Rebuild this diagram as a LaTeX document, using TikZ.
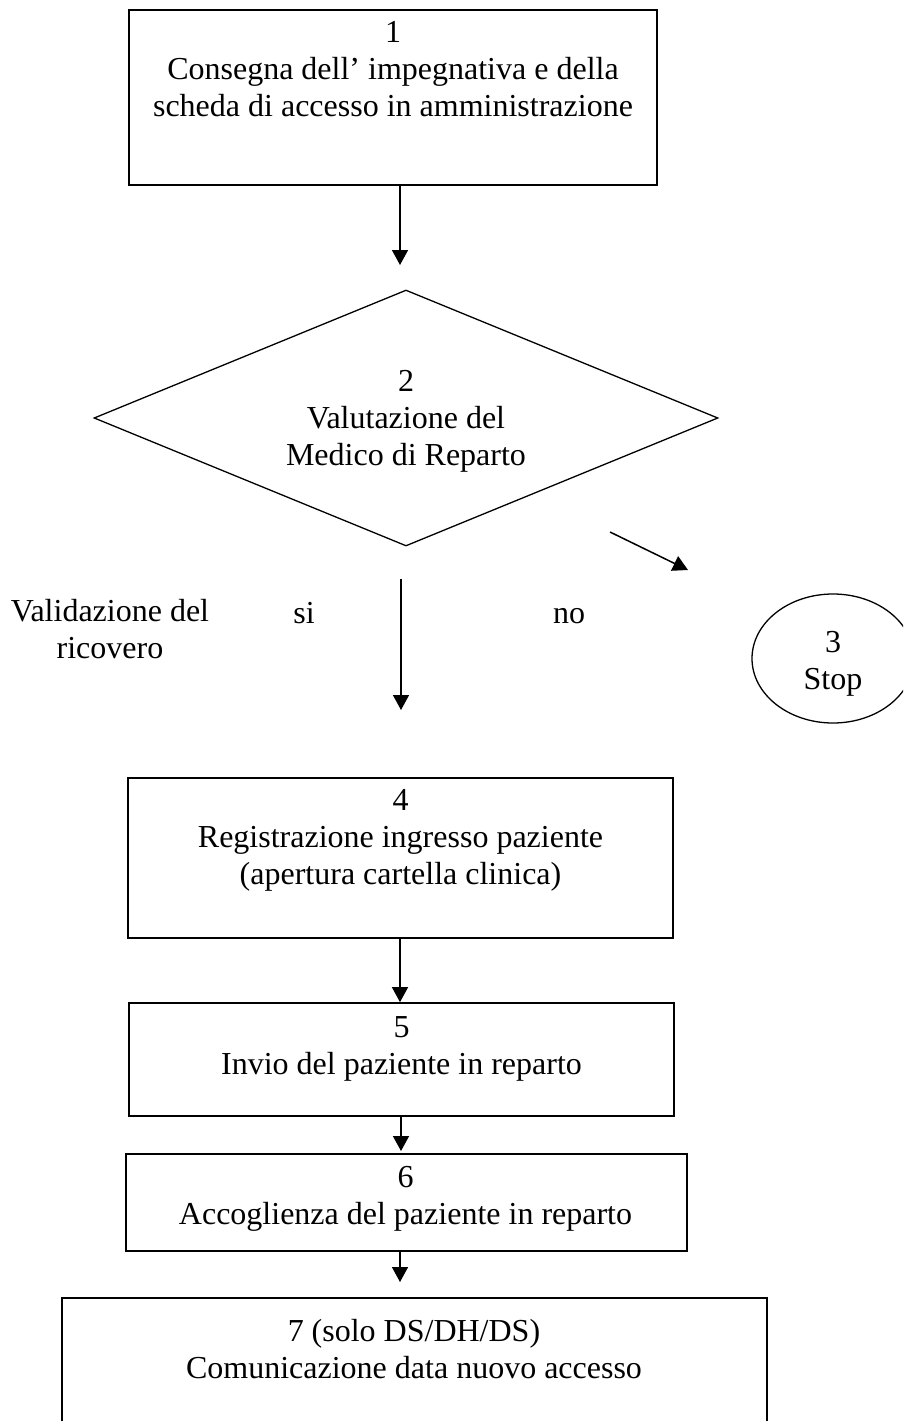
\documentclass[tikz,border=0pt]{standalone}
\usepackage{fontspec}
\setmainfont{Liberation Serif}
\usetikzlibrary{shapes.geometric,arrows.meta}
\begin{document}
\begin{tikzpicture}[x=1pt,y=-1pt,
  every node/.style={font=\fontsize{32}{37}\selectfont},
  box/.style={draw=black,line width=1.7pt,rectangle,inner sep=0pt,fill=none},
  txt/.style={align=center,inner sep=0pt},
  arr/.style={line width=1.5pt,-{Triangle[width=16pt,length=15pt]}}]
\useasboundingbox (0,0) rectangle (903,1421);
\clip (0,0) rectangle (903,1421);
\fill[white] (0,0) rectangle (903,1421);
% boxes
\node[box,minimum width=528pt,minimum height=175pt] (b1) at (393,97.5) {};
\node[txt] (t1) at (393,69) {1\\Consegna dell’ impegnativa e della\\scheda di accesso in amministrazione};
\node[draw=black,line width=1.3pt,diamond,minimum width=624pt,minimum height=256pt,inner sep=0pt] (d) at (406,418) {};
\node[txt] (t2) at (406,421.5) {2\\Valutazione del\\Medico di Reparto};
\node[draw=black,line width=1.3pt,ellipse,minimum width=162pt,minimum height=129pt,inner sep=0pt] (e) at (833,658.5) {};
\node[txt] (t3) at (833,664) {3\\Stop};
\node[txt] (lv) at (110,629.5) {Validazione del\\ricovero};
\node[txt,anchor=base] (lsi) at (304,623) {si};
\node[txt,anchor=base] (lno) at (569,623) {no};
\node[box,minimum width=545pt,minimum height=160pt] (b4) at (400.5,858) {};
\node[txt] (t4) at (400.5,840.5) {4\\Registrazione ingresso paziente\\(apertura cartella clinica)};
\node[box,minimum width=545pt,minimum height=113pt] (b5) at (401.5,1059.5) {};
\node[txt] (t5) at (401.5,1048.5) {5\\Invio del paziente in reparto};
\node[box,minimum width=561pt,minimum height=97pt] (b6) at (406.5,1202.5) {};
\node[txt] (t6) at (405.5,1198.5) {6\\Accoglienza del paziente in reparto};
\node[box,minimum width=705pt,minimum height=160pt] (b7) at (414.5,1378) {};
\node[txt] (t7) at (414,1349.5) {7 (solo DS/DH/DS)\\Comunicazione data nuovo accesso};
% connectors
\coordinate (a1) at (400,265);
\draw[arr] (b1.south -| a1) -- (a1);
\coordinate (g1) at (610,532);
\coordinate (g2) at (688,570);
\draw[arr] (g1) -- (g2);
\coordinate (v1) at (401,579);
\coordinate (v2) at (401,710);
\draw[arr] (v1) -- (v2);
\coordinate (x45) at (400,0);
\draw[arr] (b4.south -| x45) -- (b5.north -| x45);
\coordinate (x56) at (401,0);
\coordinate (e56) at (401,1151);
\draw[arr] (b5.south -| x56) -- (e56);
\coordinate (e67) at (400,1282);
\draw[arr] (b6.south -| e67) -- (e67);
\end{tikzpicture}
\end{document}
